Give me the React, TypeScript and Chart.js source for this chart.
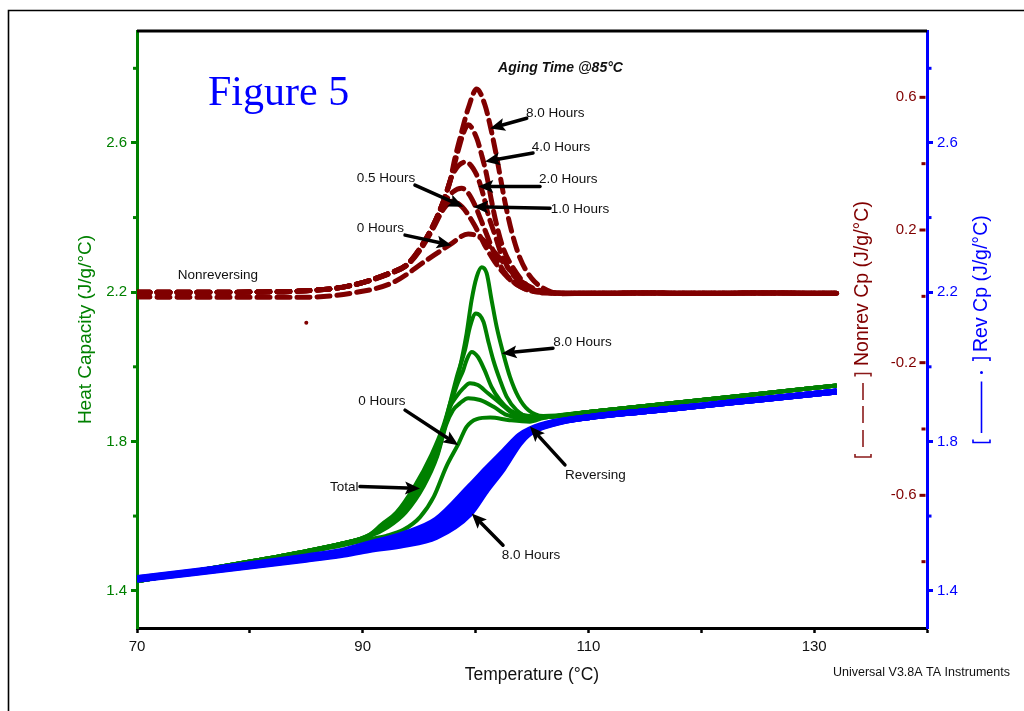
import { useEffect, useRef } from 'react';
import { Chart, registerables } from 'chart.js';

Chart.register(...registerables);

const GREEN = '#008000';
const MAROON = '#800000';
const BLUE = '#0000ff';
const SANS = '"Liberation Sans", Arial, sans-serif';
const SERIF = '"Liberation Serif", "Times New Roman", serif';

// ---- axes ----
const xTicks = [70, 80, 90, 100, 110, 120, 130, 140];
const xTickLabels = [70, 90, 110, 130];
const cpTicks = [1.4, 1.6, 1.8, 2.0, 2.2, 2.4, 2.6, 2.8];
const cpTickLabels = [1.4, 1.8, 2.2, 2.6];
const nrTicks = [-0.8, -0.6, -0.4, -0.2, 0, 0.2, 0.4, 0.6];
const nrTickLabels = [-0.6, -0.2, 0.2, 0.6];
const agingTimes = ['0', '0.5', '1.0', '2.0', '4.0', '8.0'];

// ---- Nonreversing Cp (J/g/°C) ----
const nr0hT = [70, 75, 80, 84.4, 88.9, 92.7, 95.7, 97.7, 99.35, 100.5, 101.5, 102.8, 103.9, 105.1, 106.9];
const nr0hV = [-0.002, -0.003, -0.003, -0.003, 0.009, 0.042, 0.11, 0.155, 0.188, 0.175, 0.14, 0.089, 0.049, 0.025, 0.01];
const nr05hT = [70, 75, 80, 84.4, 88.6, 92.4, 93.9, 95.1, 96.25, 97.1, 97.9, 98.8, 99.9, 100.8, 101.7, 102.9, 104.4, 106];
const nr05hV = [0.012, 0.012, 0.013, 0.016, 0.03, 0.068, 0.093, 0.14, 0.205, 0.26, 0.287, 0.27, 0.215, 0.155, 0.104, 0.055, 0.022, 0.012];
const nr1hT = [70, 75, 80, 84.4, 88.6, 92.4, 93.9, 95.1, 96.25, 97.2, 98.0, 98.77, 99.35, 99.94, 100.54, 101.12, 101.86, 102.75, 104.2, 106];
const nr1hV = [0.012, 0.012, 0.013, 0.016, 0.03, 0.069, 0.094, 0.143, 0.212, 0.28, 0.315, 0.326, 0.311, 0.275, 0.225, 0.175, 0.115, 0.064, 0.025, 0.012];
const nr2hT = [70, 75, 80, 84.4, 88.6, 92.4, 93.9, 95.1, 96.25, 97.13, 98.0, 99.1, 100.1, 100.68, 101.13, 101.72, 102.31, 103.34, 104.8, 106.5];
const nr2hV = [0.012, 0.012, 0.013, 0.016, 0.03, 0.07, 0.095, 0.145, 0.214, 0.285, 0.37, 0.405, 0.366, 0.306, 0.245, 0.185, 0.125, 0.064, 0.025, 0.011];
const nr4hT = [70, 75, 80, 84.4, 88.6, 92.4, 93.9, 95.1, 96.25, 97.13, 97.73, 98.5, 98.9, 99.35, 100.1, 100.54, 100.98, 101.43, 101.87, 102.45, 103.34, 104.53, 106];
const nr4hV = [0.012, 0.012, 0.013, 0.016, 0.03, 0.07, 0.095, 0.145, 0.215, 0.285, 0.346, 0.445, 0.49, 0.517, 0.477, 0.426, 0.366, 0.285, 0.215, 0.145, 0.085, 0.034, 0.01];
const nr8hT = [70, 75, 80, 84.4, 88.6, 92.4, 93.89, 95.07, 96.25, 97.13, 97.73, 98.17, 98.77, 99.35, 100.1, 100.83, 101.28, 101.72, 102.16, 102.6, 103.2, 103.94, 104.97, 106.3, 107.5];
const nr8hV = [0.012, 0.012, 0.013, 0.016, 0.03, 0.07, 0.095, 0.145, 0.215, 0.285, 0.346, 0.416, 0.496, 0.567, 0.625, 0.577, 0.517, 0.446, 0.366, 0.285, 0.195, 0.115, 0.054, 0.019, 0.008];
const nrTailT = [110, 115, 120, 125, 132];
const nrTailV = [0.009, 0.01, 0.009, 0.01, 0.009];
const nrStrayT = [85];
const nrStrayV = [-0.08];

// ---- Total heat capacity (J/g/°C) ----
const tot0hT = [70, 75, 80, 85, 88, 90.6, 92.1, 93.6, 95.1, 96.3, 97.4, 98.5, 99.2, 100.1, 101.3, 103.0, 104.8, 106];
const tot0hV = [1.425, 1.451, 1.476, 1.503, 1.52, 1.538, 1.547, 1.563, 1.598, 1.652, 1.732, 1.795, 1.839, 1.86, 1.864, 1.857, 1.853, 1.863];
const tot05hT = [70, 75, 80, 85, 88, 90.6, 92.2, 93.8, 95.4, 96.6, 97.4, 98.0, 98.6, 99.35, 100.4, 101.6, 102.75, 104.2, 106];
const tot05hV = [1.425, 1.452, 1.478, 1.506, 1.525, 1.546, 1.57, 1.61, 1.68, 1.76, 1.845, 1.884, 1.902, 1.916, 1.911, 1.893, 1.871, 1.862, 1.864];
const tot1hT = [70, 75, 80, 85, 88, 90.6, 92.0, 93.6, 95.2, 96.6, 97.2, 97.7, 98.3, 98.9, 99.5, 100.2, 101.1, 102.2, 103.3, 104.5, 106];
const tot1hV = [1.425, 1.452, 1.478, 1.506, 1.525, 1.547, 1.572, 1.61, 1.68, 1.765, 1.83, 1.89, 1.92, 1.942, 1.956, 1.951, 1.929, 1.902, 1.875, 1.866, 1.865];
const tot2hT = [70, 75, 80, 85, 88, 90.6, 91.9, 93.4, 95.0, 96.4, 97.2, 97.9, 98.4, 98.9, 99.2, 99.65, 100.2, 100.8, 101.4, 102.15, 103.05, 104.2, 106];
const tot2hV = [1.425, 1.452, 1.478, 1.506, 1.525, 1.548, 1.574, 1.61, 1.68, 1.765, 1.84, 1.91, 1.955, 1.99, 2.018, 2.04, 2.027, 1.991, 1.947, 1.911, 1.884, 1.871, 1.866];
const tot4hT = [70, 75, 80, 85, 88, 90.6, 91.8, 93.2, 94.8, 96.2, 97.2, 97.8, 98.4, 99.06, 99.5, 100.03, 100.7, 101.1, 101.57, 102.16, 102.75, 103.63, 104.8, 106];
const tot4hV = [1.425, 1.452, 1.478, 1.506, 1.525, 1.549, 1.576, 1.61, 1.68, 1.765, 1.84, 1.91, 1.98, 2.045, 2.107, 2.143, 2.121, 2.072, 2.018, 1.965, 1.92, 1.884, 1.866, 1.866];
const tot8hT = [70, 75, 80, 85, 88, 90.6, 91.7, 93.0, 94.6, 96.1, 97.13, 97.73, 98.32, 98.77, 99.21, 99.65, 100.1, 100.54, 100.98, 101.42, 101.87, 102.45, 103.05, 103.78, 104.67, 106];
const tot8hV = [1.425, 1.452, 1.478, 1.506, 1.525, 1.55, 1.578, 1.61, 1.68, 1.765, 1.84, 1.9, 1.96, 2.02, 2.09, 2.179, 2.241, 2.267, 2.251, 2.179, 2.107, 2.036, 1.973, 1.92, 1.884, 1.868];
const totTailT = [110, 115, 120, 125, 132];
const totTailV = [1.879, 1.895, 1.911, 1.927, 1.95];

// ---- Reversing Cp (J/g/°C) ----
const revT = [70, 75, 80, 85, 88, 90.6, 93.6, 96.5, 99.5, 101, 102.45, 103.9, 104.8, 106.9];
const rev0hV = [1.434, 1.452, 1.471, 1.492, 1.506, 1.527, 1.552, 1.59, 1.68, 1.728, 1.772, 1.816, 1.832, 1.852];
const rev05hV = [1.433, 1.451, 1.47, 1.49, 1.503, 1.522, 1.545, 1.578, 1.665, 1.716, 1.763, 1.811, 1.83, 1.851];
const rev1hV = [1.432, 1.45, 1.469, 1.488, 1.501, 1.519, 1.539, 1.57, 1.652, 1.706, 1.756, 1.807, 1.828, 1.85];
const rev2hV = [1.431, 1.449, 1.468, 1.487, 1.499, 1.516, 1.534, 1.562, 1.638, 1.695, 1.748, 1.803, 1.826, 1.849];
const rev4hV = [1.43, 1.448, 1.466, 1.485, 1.497, 1.513, 1.528, 1.553, 1.622, 1.683, 1.738, 1.799, 1.824, 1.848];
const rev8hV = [1.429, 1.447, 1.465, 1.483, 1.495, 1.509, 1.522, 1.544, 1.606, 1.67, 1.727, 1.794, 1.822, 1.847];
const revTailT = [110, 115, 120, 125, 132];
const revTailV = [1.865, 1.881, 1.896, 1.912, 1.934];

// ---- annotations (°C, J/g/°C on the left axis) ----
const notes = [
  { text: '8.0 Hours', at: [104.47, 2.68], tail: [104.53, 2.666], head: [101.28, 2.639] },
  { text: '4.0 Hours', at: [104.97, 2.588], tail: [105.09, 2.573], head: [100.83, 2.55] },
  { text: '2.0 Hours', at: [105.62, 2.503], tail: [105.71, 2.483], head: [100.24, 2.483] },
  { text: '1.0 Hours', at: [106.66, 2.423], tail: [106.6, 2.425], head: [99.8, 2.429] },
  { text: '0.5 Hours', at: [89.47, 2.505], tail: [94.63, 2.487], head: [98.91, 2.429] },
  { text: '0 Hours', at: [89.47, 2.371], tail: [93.75, 2.353], head: [97.88, 2.326] },
  { text: 'Nonreversing', at: [73.61, 2.246], tail: null, head: null },
  { text: '8.0 Hours', at: [106.89, 2.067], tail: [106.86, 2.05], head: [102.32, 2.036] },
  { text: '0 Hours', at: [89.61, 1.907], tail: [93.75, 1.884], head: [98.47, 1.79] },
  { text: 'Total', at: [87.1, 1.677], tail: [89.76, 1.679], head: [95.08, 1.674] },
  { text: 'Reversing', at: [107.92, 1.71], tail: [107.92, 1.737], head: [104.82, 1.84] },
  { text: '8.0 Hours', at: [102.32, 1.496], tail: [102.43, 1.522], head: [99.66, 1.607] },
];

const pts = (t: number[], v: number[]) => t.map((x, i) => ({ x, y: v[i] }));
const has = (arr: number[], v: number) => arr.some((a) => Math.abs(a - v) < 1e-9);

const revSeries = [rev0hV, rev05hV, rev1hV, rev2hV, rev4hV, rev8hV];
const totSeries = [
  [tot0hT, tot0hV], [tot05hT, tot05hV], [tot1hT, tot1hV],
  [tot2hT, tot2hV], [tot4hT, tot4hV], [tot8hT, tot8hV],
];
const nrSeries = [
  [nr0hT, nr0hV], [nr05hT, nr05hV], [nr1hT, nr1hV],
  [nr2hT, nr2hV], [nr4hT, nr4hV], [nr8hT, nr8hV],
];

const lineBase = {
  pointRadius: 0,
  pointHoverRadius: 0,
  fill: false,
  cubicInterpolationMode: 'monotone' as const,
};

function arrow(ctx: CanvasRenderingContext2D, x1: number, y1: number, x2: number, y2: number) {
  const ang = Math.atan2(y2 - y1, x2 - x1);
  const hl = 15;
  const hw = 6.5;
  const bx = x2 - hl * Math.cos(ang);
  const by = y2 - hl * Math.sin(ang);
  ctx.beginPath();
  ctx.moveTo(x1, y1);
  ctx.lineTo(bx + 2 * Math.cos(ang), by + 2 * Math.sin(ang));
  ctx.stroke();
  ctx.beginPath();
  ctx.moveTo(x2, y2);
  ctx.lineTo(bx + hw * Math.sin(ang), by - hw * Math.cos(ang));
  ctx.lineTo(bx + 3 * Math.cos(ang), by + 3 * Math.sin(ang));
  ctx.lineTo(bx - hw * Math.sin(ang), by + hw * Math.cos(ang));
  ctx.closePath();
  ctx.fill();
}

function rotText(ctx: CanvasRenderingContext2D, text: string, x: number, y: number) {
  ctx.save();
  ctx.translate(x, y);
  ctx.rotate(-Math.PI / 2);
  ctx.textAlign = 'left';
  ctx.textBaseline = 'middle';
  ctx.fillText(text, 0, 0);
  ctx.restore();
}

function bracketPair(ctx: CanvasRenderingContext2D, cx: number, yBottom: number, yTop: number, half: number) {
  ctx.beginPath();
  ctx.moveTo(cx - half, yBottom - 3);
  ctx.lineTo(cx - half, yBottom);
  ctx.lineTo(cx + half, yBottom);
  ctx.lineTo(cx + half, yBottom - 3);
  ctx.moveTo(cx - half, yTop + 3);
  ctx.lineTo(cx - half, yTop);
  ctx.lineTo(cx + half, yTop);
  ctx.lineTo(cx + half, yTop + 3);
  ctx.stroke();
}

const decorPlugin = {
  id: 'decor',
  beforeDraw(chart: any) {
    const { ctx, width, height } = chart;
    ctx.save();
    ctx.fillStyle = '#ffffff';
    ctx.fillRect(0, 0, width, height);
    ctx.strokeStyle = '#000';
    ctx.lineWidth = 1.6;
    ctx.beginPath();
    ctx.moveTo(8.5, height);
    ctx.lineTo(8.5, 10.5);
    ctx.lineTo(width, 10.5);
    ctx.stroke();
    ctx.restore();
  },
  afterDraw(chart: any) {
    const { ctx, chartArea: a, scales } = chart;
    const xs = scales.x;
    const yc = scales.y;
    const yr = scales.yRev;
    const yn = scales.yNonrev;
    ctx.save();

    // top frame line
    ctx.strokeStyle = '#000';
    ctx.lineWidth = 3;
    ctx.beginPath();
    ctx.moveTo(a.left, a.top);
    ctx.lineTo(a.right, a.top);
    ctx.stroke();

    // minor ticks on the Cp axes
    ctx.lineWidth = 3;
    cpTicks.filter((v) => !has(cpTickLabels, v)).forEach((v) => {
      const y = yc.getPixelForValue(v);
      ctx.strokeStyle = GREEN;
      ctx.beginPath();
      ctx.moveTo(a.left, y);
      ctx.lineTo(a.left - 4, y);
      ctx.stroke();
      const y2 = yr.getPixelForValue(v);
      ctx.strokeStyle = BLUE;
      ctx.beginPath();
      ctx.moveTo(a.right, y2);
      ctx.lineTo(a.right + 4.5, y2);
      ctx.stroke();
    });

    // nonreversing axis (inside right edge)
    ctx.strokeStyle = MAROON;
    ctx.fillStyle = MAROON;
    ctx.font = `15px ${SANS}`;
    ctx.textAlign = 'right';
    ctx.textBaseline = 'middle';
    nrTicks.forEach((v) => {
      const y = yn.getPixelForValue(v);
      const major = has(nrTickLabels, v);
      ctx.beginPath();
      ctx.moveTo(a.right - 1.5, y);
      ctx.lineTo(a.right - 1.5 - (major ? 6 : 4), y);
      ctx.stroke();
      if (major) ctx.fillText(v.toFixed(1), a.right - 10.5, y);
    });

    // nonreversing axis title with dashed-line key
    ctx.lineWidth = 1.6;
    ctx.strokeStyle = '#8b1a1a';
    bracketPair(ctx, 863, 457, 373.5, 8);
    [[383, 400], [406, 423], [430, 447]].forEach(([y1, y2]) => {
      ctx.beginPath();
      ctx.moveTo(863, y1);
      ctx.lineTo(863, y2);
      ctx.stroke();
    });
    ctx.fillStyle = MAROON;
    ctx.font = `19.5px ${SANS}`;
    rotText(ctx, 'Nonrev Cp (J/g/°C)', 863, 366);

    // reversing axis title with line-dot key
    ctx.strokeStyle = BLUE;
    ctx.fillStyle = BLUE;
    bracketPair(ctx, 981.5, 442.5, 358, 8.5);
    ctx.beginPath();
    ctx.moveTo(981.5, 381.5);
    ctx.lineTo(981.5, 433);
    ctx.stroke();
    ctx.beginPath();
    ctx.arc(981.5, 372.5, 1.5, 0, Math.PI * 2);
    ctx.fill();
    rotText(ctx, 'Rev Cp (J/g/°C)', 982, 352);

    // annotations
    ctx.font = `13.5px ${SANS}`;
    ctx.textAlign = 'left';
    ctx.textBaseline = 'middle';
    ctx.strokeStyle = '#000';
    ctx.lineWidth = 3.5;
    ctx.lineCap = 'round';
    notes.forEach((n) => {
      ctx.fillStyle = '#111';
      ctx.fillText(n.text, xs.getPixelForValue(n.at[0]), yc.getPixelForValue(n.at[1]));
      if (n.tail && n.head) {
        ctx.fillStyle = '#000';
        arrow(
          ctx,
          xs.getPixelForValue(n.tail[0]), yc.getPixelForValue(n.tail[1]),
          xs.getPixelForValue(n.head[0]), yc.getPixelForValue(n.head[1]),
        );
      }
    });

    // headline texts
    ctx.fillStyle = BLUE;
    ctx.font = `42px ${SERIF}`;
    ctx.textBaseline = 'alphabetic';
    ctx.fillText('Figure 5', 208, 105);

    ctx.fillStyle = '#111';
    ctx.font = `italic bold 14px ${SANS}`;
    ctx.textAlign = 'center';
    ctx.textBaseline = 'middle';
    ctx.fillText('Aging Time @85°C', 560.5, 68);

    ctx.font = `12.5px ${SANS}`;
    ctx.textAlign = 'left';
    ctx.fillText('Universal V3.8A TA Instruments', 833, 673);

    ctx.restore();
  },
};

export default function App() {
  const ref = useRef<HTMLCanvasElement | null>(null);

  useEffect(() => {
    if (!ref.current) return;

    const blueSets = revSeries.map((v, i) => ({
      ...lineBase,
      label: `Reversing ${agingTimes[i]} Hours`,
      data: pts(revT.concat(revTailT), v.concat(revTailV)),
      yAxisID: 'yRev',
      borderColor: BLUE,
      borderWidth: 6,
    }));
    const greenSets = totSeries.map(([t, v], i) => ({
      ...lineBase,
      label: `Total ${agingTimes[i]} Hours`,
      data: pts(t.concat(totTailT), v.concat(totTailV)),
      yAxisID: 'y',
      borderColor: GREEN,
      borderWidth: 4,
    }));
    const maroonSets = nrSeries.map(([t, v], i) => ({
      ...lineBase,
      label: `Nonreversing ${agingTimes[i]} Hours`,
      data: pts(t.concat(nrTailT), v.concat(nrTailV)),
      yAxisID: 'yNonrev',
      borderColor: MAROON,
      borderWidth: 5,
      borderDash: [13, 7],
      borderCapStyle: 'round' as const,
    }));
    const straySet = {
      label: 'Nonreversing stray point',
      data: pts(nrStrayT, nrStrayV),
      yAxisID: 'yNonrev',
      showLine: false,
      pointRadius: 2,
      pointBackgroundColor: MAROON,
      pointBorderWidth: 0,
    };

    const cpLabel = (v: any) => (has(cpTickLabels, Number(v)) ? Number(v).toFixed(1) : '');

    const chart = new Chart(ref.current, {
      type: 'line',
      data: { datasets: [...blueSets, ...greenSets, ...maroonSets, straySet] as any },
      plugins: [decorPlugin],
      options: {
        animation: false,
        responsive: false,
        devicePixelRatio: 1,
        layout: { padding: { top: 31, left: 0, right: 0, bottom: 0 } },
        plugins: { legend: { display: false }, tooltip: { enabled: false } },
        events: [],
        scales: {
          x: {
            type: 'linear',
            position: 'bottom',
            min: 70,
            max: 140,
            afterBuildTicks: (s: any) => { s.ticks = xTicks.map((value) => ({ value })); },
            afterFit: (s: any) => { s.height = 83; },
            ticks: {
              callback: (v: any) => (has(xTickLabels, Number(v)) ? String(v) : ''),
              color: '#111',
              font: { family: SANS, size: 15 },
              padding: 5,
              maxRotation: 0,
              autoSkip: false,
            },
            grid: { drawOnChartArea: false, tickLength: 5, tickColor: '#000', tickWidth: 2.5 },
            border: { color: '#000', width: 3 },
            title: {
              display: true,
              text: 'Temperature (°C)',
              color: '#111',
              font: { family: SANS, size: 17.5 },
              padding: { top: 0, bottom: 25 },
            },
          },
          y: {
            type: 'linear',
            position: 'left',
            min: 1.3,
            max: 2.9,
            afterBuildTicks: (s: any) => { s.ticks = cpTicks.map((value) => ({ value })); },
            afterFit: (s: any) => { s.width = 137; },
            ticks: { callback: cpLabel, color: GREEN, font: { family: SANS, size: 15 }, padding: 4, autoSkip: false },
            grid: {
              drawOnChartArea: false,
              tickLength: 6,
              tickWidth: 3,
              tickColor: (c: any) => (c.tick && has(cpTickLabels, c.tick.value) ? GREEN : 'rgba(0,0,0,0)'),
            },
            border: { color: GREEN, width: 3 },
            title: {
              display: true,
              text: 'Heat Capacity (J/g/°C)',
              color: GREEN,
              font: { family: SANS, size: 19 },
              padding: { top: 74, bottom: 0 },
            },
          },
          yRev: {
            type: 'linear',
            position: 'right',
            min: 1.3,
            max: 2.9,
            afterBuildTicks: (s: any) => { s.ticks = cpTicks.map((value) => ({ value })); },
            afterFit: (s: any) => { s.width = 97; },
            ticks: { callback: cpLabel, color: BLUE, font: { family: SANS, size: 15 }, padding: 4, autoSkip: false },
            grid: {
              drawOnChartArea: false,
              tickLength: 6,
              tickWidth: 3,
              tickColor: (c: any) => (c.tick && has(cpTickLabels, c.tick.value) ? BLUE : 'rgba(0,0,0,0)'),
            },
            border: { color: BLUE, width: 3 },
            title: { display: false },
          },
          yNonrev: {
            type: 'linear',
            display: false,
            min: -1.0,
            max: 0.8,
          },
        },
      } as any,
    });

    return () => chart.destroy();
  }, []);

  return (
    <div style={{ position: 'fixed', left: 0, top: 0, width: 1024, height: 711, background: '#fff' }}>
      <canvas ref={ref} width={1024} height={711} style={{ display: 'block', width: 1024, height: 711 }} />
    </div>
  );
}
